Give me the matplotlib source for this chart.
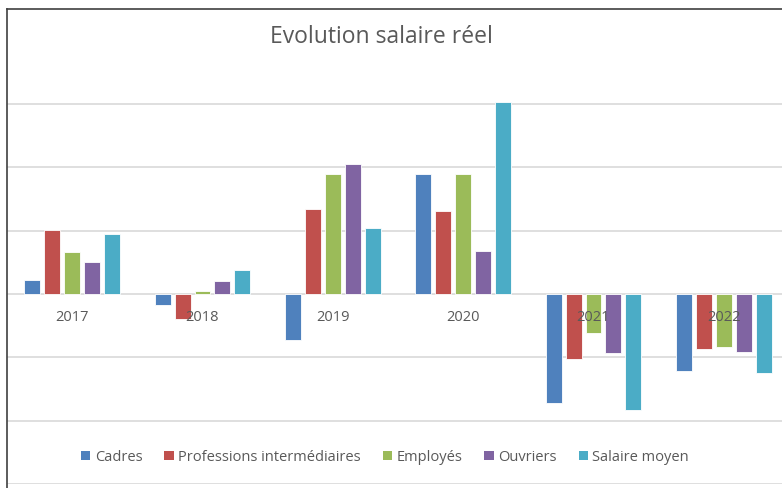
import matplotlib
matplotlib.use("Agg")
import matplotlib.pyplot as plt
from matplotlib.patches import Patch
from matplotlib.lines import Line2D
import numpy as np

years = ["2017", "2018", "2019", "2020", "2021", "2022"]
series_names = ["Cadres", "Professions intermédiaires", "Employés", "Ouvriers", "Salaire moyen"]
cadres = [0.22, -0.17, -0.72, 1.89, -1.72, -1.22]
prof_inter = [1.01, -0.39, 1.34, 1.31, -1.02, -0.87]
employes = [0.66, 0.04, 1.89, 1.89, -0.61, -0.83]
ouvriers = [0.50, 0.20, 2.05, 0.68, -0.93, -0.92]
salaire_moyen = [0.95, 0.38, 1.05, 3.03, -1.83, -1.25]
colors = ["#4F81BD", "#C0504D", "#9BBB59", "#8064A2", "#4BACC6"]

plt.rcParams['font.family'] = ['Open Sans', 'DejaVu Sans']

W, H = 782, 489
fig = plt.figure(figsize=(W/100, H/100), dpi=100)
fig.patch.set_facecolor("white")

y_top_pix, y_bot_pix = 86, 485
x_left_pix, x_right_pix = 7, 789
ax = fig.add_axes([x_left_pix/W, (H - y_bot_pix)/H, (x_right_pix - x_left_pix)/W, (y_bot_pix - y_top_pix)/H])
ax.set_xlim(-0.5, 5.5)
ax.set_ylim(-3, 3.3)
ax.set_yticks([-3, -2, -1, 0, 1, 2, 3])
ax.yaxis.grid(True, color="#D9D9D9", lw=1.2)
ax.set_axisbelow(True)
for s in ax.spines.values():
    s.set_visible(False)
ax.tick_params(left=False, bottom=False, labelleft=False, labelbottom=False)

data = [cadres, prof_inter, employes, ouvriers, salaire_moyen]
x = np.arange(len(years))
step, width = 0.153, 0.122
for i, (vals, c) in enumerate(zip(data, colors)):
    ax.bar(x + (i - 2) * step, vals, width=width, color=c, edgecolor="white", linewidth=0.6, zorder=3)

for xi, yr in zip(x, years):
    ax.text(xi, -0.35, yr, ha="center", va="center", fontsize=10.5, color="#595959", zorder=4)

fig.text(381/W, 1 - 37/H, "Evolution salaire réel", ha="center", va="center", fontsize=16.5, color="#595959")

handles = [Patch(facecolor=c, edgecolor="none") for c in colors]
fig.legend(handles, series_names, loc="center", bbox_to_anchor=(385/W, 1 - 458/H), ncol=5,
           frameon=False, fontsize=10.5, handlelength=0.65, handleheight=0.65, handletextpad=0.3,
           columnspacing=1.5, labelcolor="#595959")

fig.add_artist(Line2D([7/W, 1], [1 - 10/H, 1 - 10/H], color="#404040", lw=1.2))
fig.add_artist(Line2D([7/W, 7/W], [1 - 10/H, 0], color="#404040", lw=1.2))

fig.savefig("out.png", dpi=100)
